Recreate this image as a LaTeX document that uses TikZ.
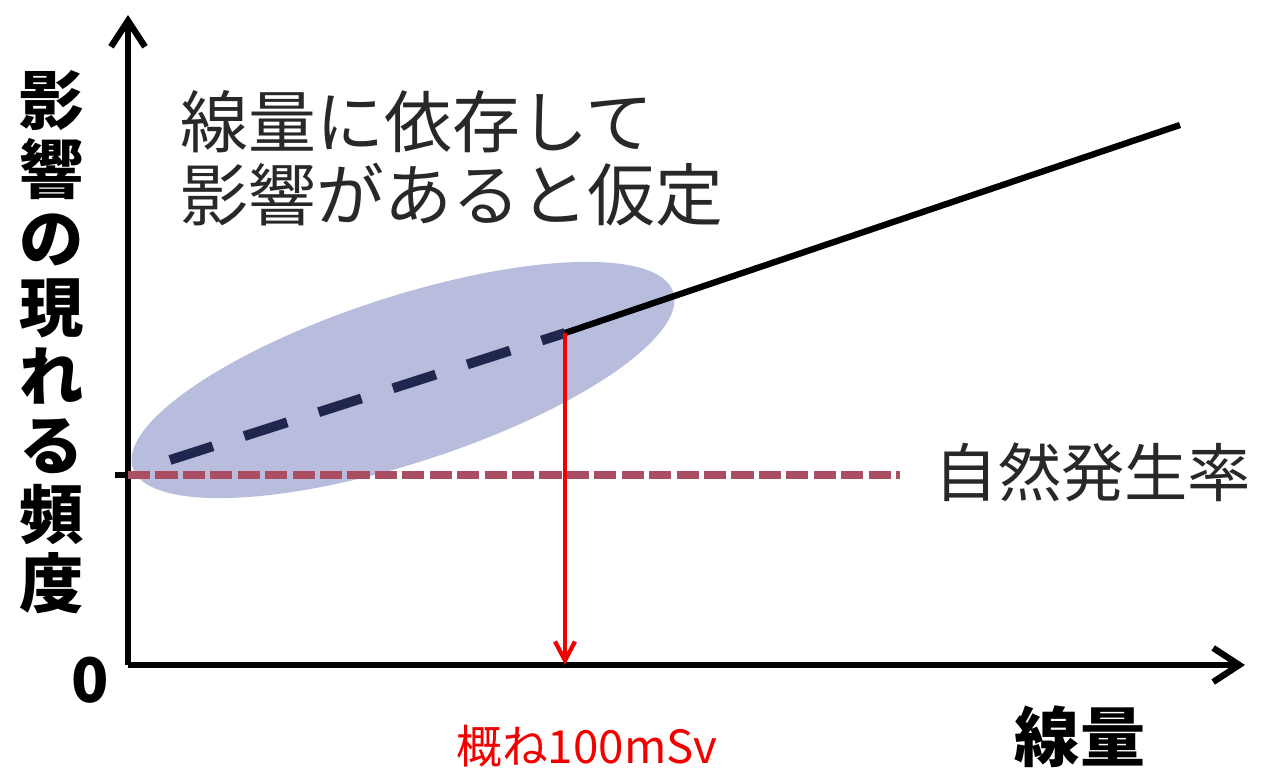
\documentclass[tikz,border=0pt]{standalone}
\usepackage{fontspec}
\setmainfont{Noto Sans CJK JP}
\usetikzlibrary{positioning, arrows.meta}
\definecolor{blobblue}{RGB}{184,189,222}
\definecolor{ratered}{RGB}{172,78,98}
\definecolor{dosenavy}{RGB}{32,38,78}
\definecolor{notegray}{RGB}{40,40,40}
\newcommand{\axiscolor}{black}
\newcommand{\markcolor}{red!95!black}

\begin{document}
\begin{tikzpicture}[x=0.01cm,y=-0.01cm,inner sep=0,
	axis/.style={draw=\axiscolor,line width=1.8pt,-{Straight Barb[length=2.6mm,width=3.4mm,line width=1.8pt]}},
	lbl/.style 2 args={font=\fontsize{#1}{#2}\selectfont,align=center},
	boldlbl/.style 2 args={font=\fontsize{#1}{#2}\selectfont\bfseries,align=center},
	doseline/.style={draw=dosenavy,line width=2.8pt,dash pattern=on 12.8pt off 9.4pt},
	rateline/.style={draw=ratered,line width=2.3pt,dash pattern=on 6.3pt off 1.5pt}]
	\useasboundingbox (0,0) rectangle (1278,773);
	%%
	\coordinate (O) at (128,665);
	\coordinate (ytip) at (128,15);
	\coordinate (xtip) at (1245,665);
	\coordinate (low) at (170,460);
	\coordinate (knee) at (565,333);
	\coordinate (high) at (1180,125);
	\coordinate (r0) at (115,475);
	\coordinate (r1) at (900,475);
	%%
	\fill[blobblue, rotate around={18:(403,380)}] (403,380) ellipse [x radius=2.84cm, y radius=0.83cm];
	%%
	\draw[axis] (O) -- (ytip);
	\draw[axis] (O) -- (xtip);
	\draw[line width=1.8pt] (r0) -- (O |- r0);
	%%
	\draw[rateline] (O |- r0) -- (r1);
	\draw[doseline] (low) -- (knee);
	\draw[line width=1.8pt] (knee) -- (high);
	\draw[draw=\markcolor,line width=1.2pt,-{Straight Barb[length=1.9mm,width=2mm,line width=1.2pt]}] (knee) -- (knee |- O);
	%%
	\node[lbl={19.3pt}{20.8pt}, text=notegray, align=left, anchor=west] (hyp) at (180,158) {線量に依存して\\影響があると仮定};
	\node[lbl={18pt}{20pt}, text=notegray] (rate) at (1093,472) {自然発生率};
	\node[boldlbl={18.3pt}{19.6pt}] (ylab) at (52,342) {影\\響\\の\\現\\れ\\る\\頻\\度};
	\node[boldlbl={18.5pt}{20pt}] (xlab) at (1080,737) {線量};
	\node[boldlbl={17.5pt}{20pt}] (zero) at (90,680) {0};
	\node[lbl={13pt}{15pt}, text=\markcolor] (dose) at (587,746) {概ね100mSv};
\end{tikzpicture}
\end{document}
